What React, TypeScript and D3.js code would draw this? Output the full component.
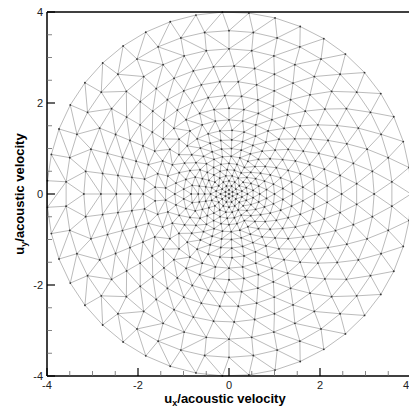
import React, { useEffect, useRef } from 'react';
import * as d3 from 'd3';

// mesh read as concentric rows of nodes: radius of each row and its node count
const ringRadii = [0, 0.09, 0.185, 0.29, 0.405, 0.535, 0.675, 0.83, 1.0, 1.19, 1.4, 1.63, 1.885, 2.165, 2.475, 2.815, 3.19, 3.59, 4.0];
const ringCounts = [1, 6, 10, 14, 18, 21, 24, 27, 29, 31, 33, 34, 36, 37, 38, 39, 40, 42, 43];

const majorTicks = [-4, -2, 0, 2, 4];
const minorTicks = [-3.5, -3, -2.5, -1.5, -1, -0.5, 0.5, 1, 1.5, 2.5, 3, 3.5];

const W = 409;
const H = 412;
const FONT = '"Liberation Sans", Arial, Helvetica, sans-serif';

export default function App() {
  const svgRef = useRef<SVGSVGElement>(null);

  useEffect(() => {
    if (!svgRef.current) return;
    const svg = d3.select(svgRef.current);
    svg.selectAll('*').remove();

    const margin = { left: 47, top: 12, right: 411, bottom: 376 };
    const x = d3.scaleLinear().domain([-4, 4]).range([margin.left, margin.right]);
    const y = d3.scaleLinear().domain([-4, 4]).range([margin.bottom, margin.top]);

    // build node list from the rings
    const pts: [number, number][] = [];
    ringRadii.forEach((r, k) => {
      const n = ringCounts[k];
      const phase = (k % 2) * Math.PI / n;
      for (let i = 0; i < n; i++) {
        const a = phase + (2 * Math.PI * i) / n;
        pts.push([x(r * Math.cos(a)), y(r * Math.sin(a))]);
      }
    });

    const delaunay = d3.Delaunay.from(pts);

    const g = svg.append('g');
    g.append('path')
      .attr('d', delaunay.render())
      .attr('fill', 'none')
      .attr('stroke', '#777')
      .attr('stroke-width', 0.5);
    g.selectAll('circle')
      .data(pts)
      .join('circle')
      .attr('cx', d => d[0])
      .attr('cy', d => d[1])
      .attr('r', 0.9)
      .attr('fill', '#333');

    // frame
    const frame = svg.append('g').attr('stroke', '#000').attr('stroke-width', 1.5);
    frame.append('line').attr('x1', margin.left).attr('x2', margin.left).attr('y1', margin.top).attr('y2', margin.bottom);
    frame.append('line').attr('x1', margin.left).attr('x2', margin.right).attr('y1', margin.top).attr('y2', margin.top);
    frame.append('line').attr('x1', margin.left).attr('x2', margin.right).attr('y1', margin.bottom).attr('y2', margin.bottom);

    // ticks
    const ticks = svg.append('g');
    majorTicks.forEach(v => {
      ticks.append('line').attr('x1', margin.left).attr('x2', margin.left + 8).attr('y1', y(v)).attr('y2', y(v))
        .attr('stroke', '#000').attr('stroke-width', 1.2);
      ticks.append('line').attr('x1', x(v)).attr('x2', x(v)).attr('y1', margin.bottom).attr('y2', margin.bottom - 8)
        .attr('stroke', '#000').attr('stroke-width', 1.2);
    });
    minorTicks.forEach(v => {
      ticks.append('line').attr('x1', margin.left).attr('x2', margin.left + 5).attr('y1', y(v)).attr('y2', y(v))
        .attr('stroke', '#666').attr('stroke-width', 0.8);
      ticks.append('line').attr('x1', x(v)).attr('x2', x(v)).attr('y1', margin.bottom).attr('y2', margin.bottom - 5)
        .attr('stroke', '#666').attr('stroke-width', 0.8);
    });

    // tick labels (the 4 on the right sits past the edge, as in the original)
    majorTicks.forEach(v => {
      svg.append('text')
        .attr('x', margin.left - 4)
        .attr('y', y(v))
        .attr('dy', '0.35em')
        .attr('text-anchor', 'end')
        .attr('font-family', FONT)
        .attr('font-size', 11)
        .attr('fill', '#222')
        .text(String(v));
      svg.append('text')
        .attr('x', Math.min(x(v), 406))
        .attr('y', margin.bottom + 13)
        .attr('text-anchor', 'middle')
        .attr('font-family', FONT)
        .attr('font-size', 11)
        .attr('fill', '#222')
        .text(String(v));
    });

    // axis titles
    const xt = svg.append('text')
      .attr('x', 225)
      .attr('y', 403)
      .attr('text-anchor', 'middle')
      .attr('font-family', FONT)
      .attr('font-size', 13)
      .attr('font-weight', 'bold')
      .attr('fill', '#000');
    xt.append('tspan').text('u');
    xt.append('tspan').attr('dy', 3).attr('font-size', 9).text('x');
    xt.append('tspan').attr('dy', -3).text('/acoustic velocity');

    const yt = svg.append('text')
      .attr('transform', `translate(24,${y(0)}) rotate(-90)`)
      .attr('text-anchor', 'middle')
      .attr('font-family', FONT)
      .attr('font-size', 13)
      .attr('font-weight', 'bold')
      .attr('fill', '#000');
    yt.append('tspan').text('u');
    yt.append('tspan').attr('dy', 3).attr('font-size', 9).text('y');
    yt.append('tspan').attr('dy', -3).text('/acoustic velocity');
  }, []);

  return (
    <svg
      ref={svgRef}
      width={W}
      height={H}
      style={{ position: 'absolute', left: 0, top: 0, background: '#fff' }}
    />
  );
}
